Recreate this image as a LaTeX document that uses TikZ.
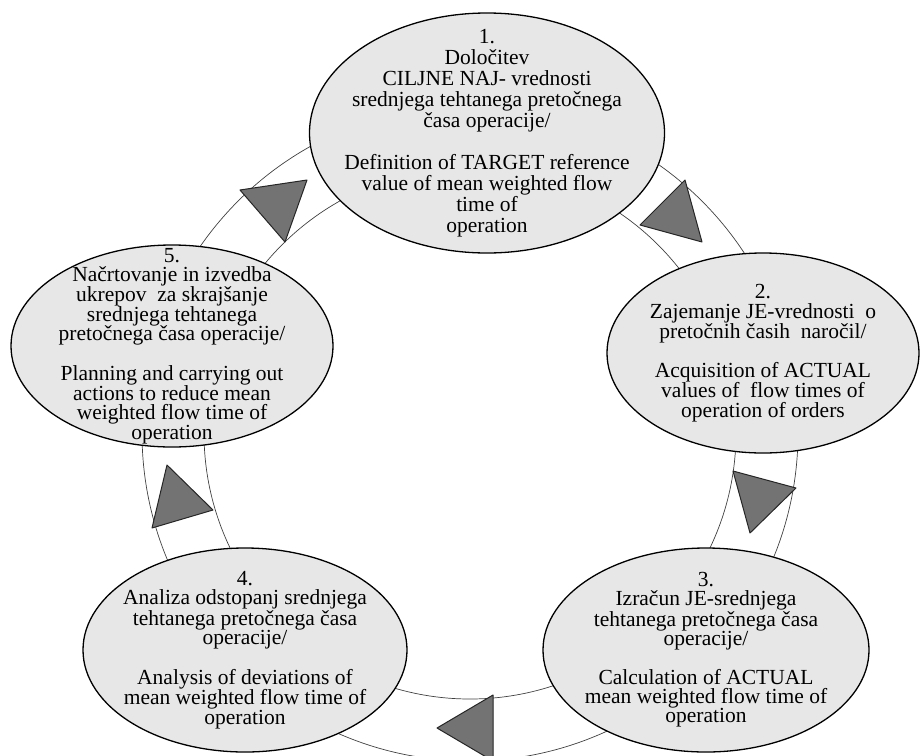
\documentclass[tikz,border=0pt]{standalone}
\usepackage{fontspec}
\setmainfont{Liberation Serif}
\usetikzlibrary{shapes.geometric}

\tikzset{
  stage/.style={ellipse, draw=black, line width=1.3pt, fill=gray!19, inner sep=0pt},
  stagetext/.style={align=center, inner sep=0pt, font=\fontsize{21.5}{#1}\selectfont},
  ring/.style={draw=black!75, line width=0.7pt},
  flowtip/.style={draw=black!85, line width=1pt, fill=black!55, line join=round}
}

\begin{document}
\begin{tikzpicture}[x=1pt,y=-1pt]
 \useasboundingbox (0,0) rectangle (920,755);

% Ring of the cycle
 \coordinate (hub) at (470,433);
 \draw[ring] (hub) circle [radius=328];
 \draw[ring] (hub) circle [radius=266];

% Stages
 \node[stage, minimum width=355, minimum height=240] (s1) at (487,133) {};
 \node[stage, minimum width=312, minimum height=200] (s2) at (763,353) {};
 \node[stage, minimum width=326, minimum height=204] (s3) at (706,650) {};
 \node[stage, minimum width=324, minimum height=204] (s4) at (245,650) {};
 \node[stage, minimum width=322, minimum height=202] (s5) at (172,346) {};

 \node[stagetext=21pt] (t1) at (s1.center) {1.\\ Določitev\\ CILJNE NAJ- vrednosti\\ srednjega tehtanega pretočnega\\ časa operacije/\\[21pt]
   Definition of TARGET reference\\ value of mean weighted flow\\ time of\\ operation};
 \node[stagetext=19.8pt] (t2) at (s2.center) {2.\\ Zajemanje JE-vrednosti~ o\\ pretočnih časih~ naročil/\\[19.8pt]
   Acquisition of ACTUAL\\ values of~ flow times of\\ operation of orders};
 \node[stagetext=19pt] (t3) at (s3.center) {3.\\ Izračun JE-srednjega\\ tehtanega pretočnega časa\\ operacije/\\[19pt]
   Calculation of ACTUAL\\ mean weighted flow time of\\ operation};
 \node[stagetext=19.1pt] (t4) at (s4.center) {4.\\ Analiza odstopanj srednjega\\ tehtanega pretočnega časa\\ operacije/\\[19.1pt]
   Analysis of deviations of\\ mean weighted flow time of\\ operation};
 \node[stagetext=19.7pt] (t5) at (s5.center) {5.\\ Načrtovanje in izvedba\\ ukrepov~ za skrajšanje\\ srednjega tehtanega\\ pretočnega časa operacije/\\[19.7pt]
   Planning and carrying out\\ actions to reduce mean\\ weighted flow time of\\ operation};

% Direction of flow
 \draw[flowtip] (240,190) -- (307,180) -- (285,242) -- cycle; % 5 to 1
 \draw[flowtip] (640,225) -- (685,180) -- (702,242) -- cycle; % 1 to 2
 \draw[flowtip] (733,471) -- (796,488) -- (750,533) -- cycle; % 2 to 3
 \draw[flowtip] (493,695) -- (493,761) -- (437,728) -- cycle; % 3 to 4
 \draw[flowtip] (213,510) -- (152,528) -- (167,465) -- cycle; % 4 to 5

\end{tikzpicture}
\end{document}
